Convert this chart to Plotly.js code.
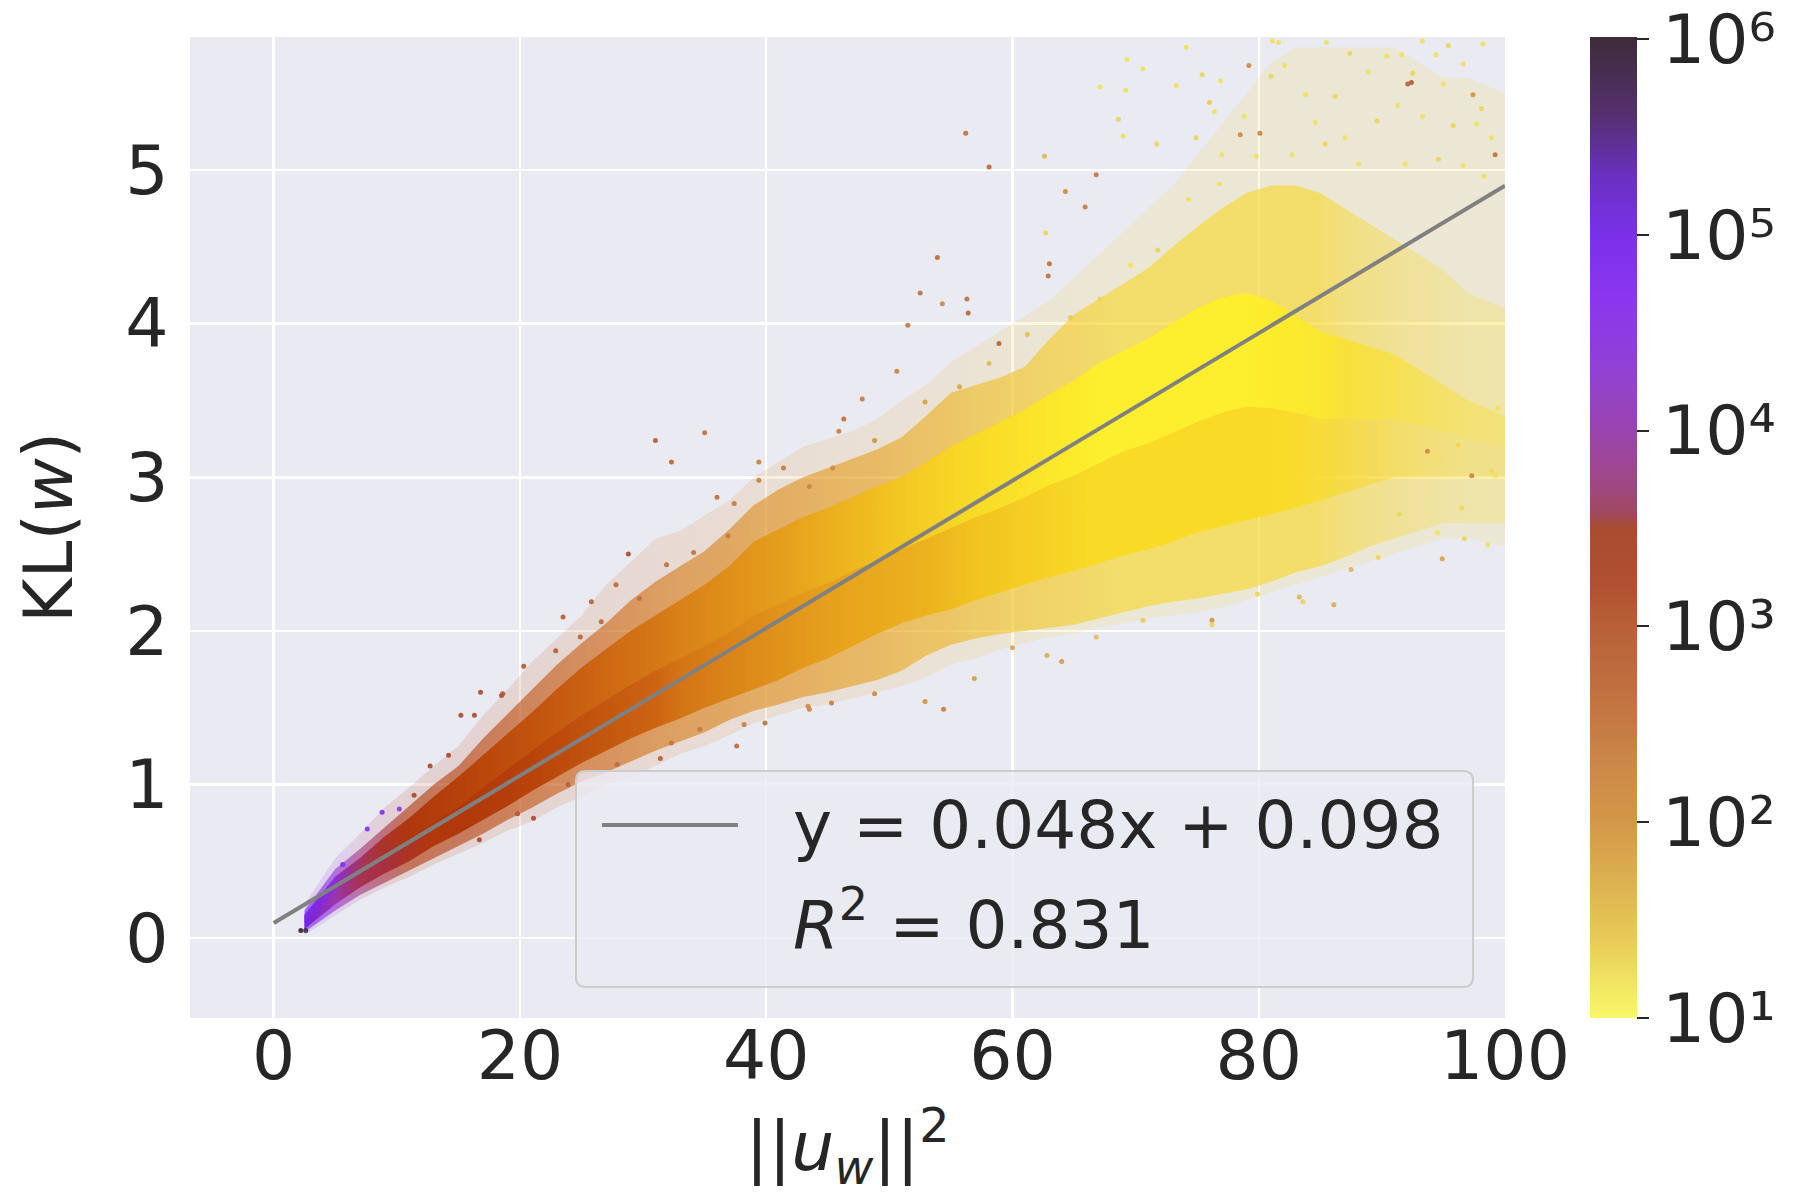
<!DOCTYPE html>
<html>
<head>
<meta charset="utf-8">
<script src="https://cdn.plot.ly/plotly-3.0.1.min.js"></script>
<style>html,body{margin:0;padding:0;background:#fff;}#chart{width:1800px;height:1200px;}</style>
</head>
<body>
<div id="chart"></div>
<script>
// ---------- data ----------
// sample positions along ||u_w||^2
const colX = [2.5,5,7,9,11,13,15,17,19,21,23,25,27,29,31,33,35,37,39,41,43,45,47,49,51,53,55,57,59,61,63,65,67,69,71,73,75,77,79,81,83,85,87,89,91,93,95,97,100];
// dense core of the cloud (KL lower edge / split / upper edge)
const coreLo = [0.06,0.22,0.33,0.42,0.5,0.6,0.68,0.77,0.86,0.96,1.05,1.14,1.22,1.3,1.37,1.43,1.5,1.56,1.62,1.68,1.76,1.82,1.9,1.98,2.05,2.1,2.14,2.2,2.25,2.3,2.35,2.39,2.44,2.49,2.53,2.58,2.64,2.68,2.72,2.76,2.8,2.85,2.9,2.95,3.0,3.0,3.0,3.0,3.0];
const coreMid = [0.1,0.31,0.425,0.54,0.64,0.76,0.855,0.98,1.1,1.22,1.34,1.45,1.55,1.65,1.74,1.82,1.9,1.99,2.1,2.17,2.25,2.31,2.39,2.46,2.53,2.6,2.67,2.74,2.8,2.87,2.95,3.01,3.09,3.17,3.22,3.29,3.36,3.42,3.46,3.45,3.42,3.38,3.38,3.38,3.38,3.34,3.3,3.25,3.2];
const coreHi = [0.15,0.4,0.52,0.66,0.78,0.92,1.05,1.19,1.33,1.47,1.62,1.76,1.88,2.0,2.1,2.2,2.3,2.42,2.58,2.66,2.74,2.8,2.87,2.94,3.0,3.1,3.2,3.28,3.36,3.44,3.54,3.63,3.74,3.82,3.9,4.0,4.1,4.17,4.2,4.15,4.05,3.95,3.9,3.85,3.8,3.7,3.6,3.5,3.4];
// thinner halo around the core
const haloLo = [0.04,0.18,0.28,0.36,0.44,0.52,0.6,0.68,0.77,0.85,0.94,1.02,1.08,1.15,1.22,1.28,1.34,1.42,1.48,1.52,1.57,1.6,1.64,1.68,1.74,1.84,1.91,1.95,1.98,2.0,2.02,2.04,2.08,2.12,2.16,2.19,2.21,2.24,2.27,2.32,2.38,2.42,2.48,2.55,2.6,2.65,2.7,2.7,2.7];
const haloHi = [0.18,0.45,0.58,0.72,0.86,1.0,1.12,1.3,1.46,1.62,1.78,1.92,2.05,2.2,2.32,2.42,2.52,2.66,2.82,2.92,3.0,3.06,3.12,3.18,3.26,3.4,3.55,3.6,3.65,3.72,3.9,4.06,4.16,4.26,4.36,4.5,4.63,4.75,4.85,4.9,4.9,4.85,4.75,4.65,4.55,4.45,4.35,4.2,4.1];
// outer, very sparse fringe
const sparseLo = [0.02,0.15,0.25,0.33,0.4,0.48,0.55,0.62,0.7,0.76,0.85,0.92,1.0,1.05,1.12,1.2,1.25,1.32,1.4,1.45,1.5,1.52,1.56,1.6,1.64,1.7,1.78,1.82,1.88,1.92,1.96,1.98,2.02,2.05,2.08,2.1,2.12,2.15,2.2,2.25,2.3,2.35,2.4,2.45,2.5,2.55,2.6,2.6,2.55];
const sparseHi = [0.22,0.52,0.68,0.85,0.98,1.12,1.25,1.45,1.62,1.8,1.95,2.1,2.3,2.45,2.6,2.65,2.75,2.85,3.0,3.1,3.2,3.25,3.3,3.38,3.5,3.6,3.75,3.85,3.95,4.05,4.15,4.3,4.45,4.6,4.75,4.9,5.1,5.3,5.5,5.7,5.8,5.8,5.8,5.8,5.8,5.7,5.6,5.6,5.5];
// word frequency (log10) shown by colour
const freqLower = [5.1,4.2,3.7,3.6,3.55,3.5,3.5,3.45,3.4,3.3,3.2,3.1,3.0,2.9,2.8,2.6,2.5,2.4,2.3,2.2,2.1,2.0,1.95,1.9,1.85,1.8,1.7,1.6,1.55,1.5,1.45,1.4,1.35,1.35,1.35,1.35,1.35,1.35,1.35,1.35,1.35,1.35,1.4,1.4,1.4,1.4,1.4,1.4,1.4];
const freqUpper = [4.9,4.7,3.8,3.55,3.5,3.4,3.3,3.2,3.1,3.0,2.9,2.8,2.7,2.6,2.5,2.4,2.3,2.2,2.1,2.0,1.9,1.8,1.7,1.6,1.5,1.42,1.35,1.3,1.25,1.2,1.15,1.1,1.05,1.05,1.05,1.05,1.05,1.05,1.05,1.1,1.1,1.1,1.2,1.2,1.2,1.2,1.2,1.2,1.2];
const freqHalo = [5.0,4.5,3.9,3.6,3.5,3.45,3.4,3.3,3.2,3.1,3.0,2.9,2.8,2.7,2.6,2.5,2.45,2.4,2.3,2.25,2.2,2.1,2.05,2.0,1.9,1.85,1.8,1.7,1.65,1.6,1.55,1.5,1.45,1.4,1.4,1.4,1.4,1.4,1.4,1.4,1.4,1.4,1.4,1.4,1.4,1.4,1.4,1.4,1.4];
// isolated points
const outX = [2.2,2.6,3.0,5.6,7.6,8.8,10.2,12.7,15.2,16.3,16.8,18.5,21.1,23.5,25.8,27.8,28.8,31.0,32.3,35.0,36.0,39.4,31.4,37.6,39.9,45.3,
  41.4,45.9,46.3,47.8,50.6,51.5,52.5,53.9,54.3,56.3,56.4,58.9,56.2,58.1,62.6,62.9,63.0,64.3,65.9,66.8,62.7,54.4,64.0,76.2,83.3,86.1,
  67.1,69.3,76.0,76.9,81.1,92.4,98.1,98.8,99.2,96.7,73.3,74.1,79.2,92.1,97.4,99.2,98.3,69.2,68.6,69.0,71.7,96.6,98.2,93.3,98.9,99.4,97.3,96.5,94.9,98.6,89.7,87.5,91.4,94.5,96.2,94.7,93.7,
  81.6,85.5,87.4,90.4,94.4,95.4,88.9,91.6,92.5,95.0,83.8,86.2,82.1,81.0,84.6,87.0,89.6,91.3,93.3,95.8,97.7,98.9,76.4,78.8,74.9,80.1,78.5,79.8,70.6,75.4,77.0,82.7,85.4,88.1,91.9,94.6,96.6,
  34.1,37.4,39.4,29.7,26.6,24.9,22.9,20.3,18.6,14.2,11.4,31.9,36.9,16.7,19.8,23.9,27.9,32.3,34.6,38.2,43.4,
  43.5,45.4,48.8,52.9,55.7,58.1,61.2,64.7,67.1,69.6,71.8,74.3,76.8,43.5,48.8,52.9,56.9,60.0,62.8,66.8,70.6,76.2,79.9,83.6];
const outY = [0.05,0.05,0.18,0.48,0.71,0.82,0.84,1.12,1.45,1.45,1.6,1.58,0.78,2.09,2.19,2.3,2.5,3.24,3.1,3.29,2.87,2.98,1.17,1.25,1.40,1.53,
  3.06,3.30,3.38,3.51,3.69,3.99,4.2,4.43,4.13,4.16,4.07,3.87,5.24,5.02,5.09,4.31,4.39,4.86,4.76,4.97,4.59,1.49,1.80,2.07,2.22,2.17,
  5.54,5.72,5.44,5.58,5.84,5.57,5.4,4.84,3.01,2.6,5.55,5.80,5.68,5.56,5.49,5.10,4.96,5.52,5.33,5.22,5.17,5.69,5.82,5.84,3.04,3.45,3.01,2.80,2.47,2.56,2.48,2.40,2.76,2.64,3.21,3.12,3.17,
  5.83,5.83,5.76,5.74,5.75,5.81,5.64,5.75,5.63,5.56,5.49,5.48,5.68,5.61,5.31,5.21,5.32,5.42,5.35,5.29,5.30,5.21,5.38,5.35,5.21,5.24,5.23,5.09,5.66,5.62,5.10,5.10,5.17,5.04,5.04,5.07,5.03,
  2.51,2.83,3.10,2.21,2.06,1.96,1.87,1.77,1.59,1.19,0.93,2.43,2.62,0.64,0.81,1.0,1.13,1.27,1.36,1.39,1.51,
  2.94,3.06,3.24,3.49,3.59,3.74,3.93,4.04,4.16,4.38,4.48,4.81,4.91,1.49,1.59,1.54,1.69,1.89,1.84,1.96,2.07,2.04,2.24,2.19];
const outC = [6.0,5.8,5.0,4.9,4.7,4.8,4.4,3.4,3.3,3.2,3.3,3.2,3.4,3.0,2.9,2.8,3.2,3.0,2.8,2.6,2.6,2.4,3.0,2.7,2.6,2.4,
  2.5,2.4,2.6,2.4,2.3,2.5,2.6,2.7,2.2,2.6,2.8,2.9,2.6,2.8,1.6,2.6,2.6,2.2,2.4,2.5,1.3,2.4,1.9,2.0,1.6,1.7,
  1.2,1.2,1.4,1.2,1.2,3.0,1.3,1.3,1.2,1.3,1.2,1.2,2.2,2.9,2.0,2.6,1.2,1.2,1.3,1.2,1.3,1.2,1.2,1.2,1.3,1.2,2.3,1.3,1.8,1.2,1.3,1.6,1.3,1.2,1.3,1.2,2.2,
  1.2,1.2,1.3,1.2,1.2,1.3,1.2,1.2,1.3,1.2,1.2,1.3,1.2,1.3,1.2,1.2,1.3,1.2,1.2,1.3,1.2,1.2,1.2,1.2,1.3,2.3,2.2,1.2,1.2,1.3,1.2,1.2,1.3,1.2,1.2,1.3,1.2,
  2.6,2.5,2.4,2.7,2.8,2.9,3.0,3.0,3.1,3.3,3.4,2.6,2.5,3.3,3.1,3.0,2.8,2.6,2.5,2.4,2.2,
  2.3,2.2,2.1,1.9,1.8,1.6,1.5,1.4,1.3,1.2,1.3,1.2,1.2,2.3,2.2,2.0,1.9,1.8,1.7,1.5,1.4,1.3,1.3,1.3];
// fitted regression line y = 0.048x + 0.098
const fitX = [0, 100];
const fitY = [0.098, 4.898];
const fitLabel = 'y = 0.048x + 0.098';
const r2Label = '<i>R</i><sup>2</sup> = 0.831';
// axis ticks
const xTicks = [0, 20, 40, 60, 80, 100];
const yTicks = [0, 1, 2, 3, 4, 5];
const cbTickVals = [1, 2, 3, 4, 5, 6];
const cbTickText = ['10¹','10²','10³','10⁴','10⁵','10⁶'];

// ---------- styles ----------
const CMIN = 1, CMAX = 6.01;
const coreAlpha = colX.map(x => x <= 82 ? 1 : x <= 84 ? 0.9 : x <= 86 ? 0.75 : x <= 88 ? 0.6 : x <= 90 ? 0.5 : x <= 92 ? 0.42 : x <= 94 ? 0.35 : x <= 96 ? 0.3 : x <= 98 ? 0.25 : 0.22);
const upperAlpha = coreAlpha.map(a => a * 0.8);
const haloAlpha = colX.map(x => x <= 86 ? 0.6 : x <= 88 ? 0.48 : x <= 90 ? 0.42 : x <= 92 ? 0.36 : x <= 94 ? 0.32 : x <= 96 ? 0.28 : 0.25);
const sparseAlpha = colX.map(() => 0.14);

const vivid = [[0,'#fff830'],[0.06,'#fae028'],[0.12,'#f2c420'],[0.2,'#e6a01c'],[0.28,'#da8418'],[0.36,'#cc6412'],[0.44,'#bc4a0c'],[0.5,'#b0380a'],[0.52,'#a83040'],[0.6,'#a03890'],[0.7,'#9030d8'],[0.8,'#7a22f0'],[0.9,'#5a209a'],[1,'#2a1020']];
const muted = [[0,'#f8f868'],[0.078,'#e8cc58'],[0.14,'#dcb050'],[0.2,'#d49848'],[0.257,'#cc8848'],[0.335,'#c07040'],[0.4,'#b86038'],[0.445,'#b05030'],[0.5,'#a84c30'],[0.515,'#a04860'],[0.54,'#a04880'],[0.6,'#9a44b0'],[0.67,'#9040d8'],[0.74,'#8a35f0'],[0.8,'#7a30e8'],[0.858,'#6a30c0'],[0.92,'#553070'],[1,'#3c2c38']];

const FONT = '"DejaVu Sans", "Liberation Sans", sans-serif';
const TXT = '#262626';

function hexRgb(h) { return [parseInt(h.slice(1,3),16), parseInt(h.slice(3,5),16), parseInt(h.slice(5,7),16)]; }
function scaleColor(scale, v, a) {
  let t = Math.max(0, Math.min(1, (v - CMIN) / (CMAX - CMIN)));
  for (let i = 1; i < scale.length; i++) {
    if (t <= scale[i][0]) {
      const f = (t - scale[i-1][0]) / (scale[i][0] - scale[i-1][0]);
      const c0 = hexRgb(scale[i-1][1]), c1 = hexRgb(scale[i][1]);
      const c = c0.map((c, k) => Math.round(c + (c1[k] - c) * f));
      return `rgba(${c[0]},${c[1]},${c[2]},${a})`;
    }
  }
  const c = hexRgb(scale[scale.length-1][1]);
  return `rgba(${c[0]},${c[1]},${c[2]},${a})`;
}

function band(lo, hi, freq, alpha) {
  const x0 = colX[0], x1 = colX[colX.length - 1];
  return {
    type: 'scatter', mode: 'lines', fill: 'toself',
    x: colX.concat(colX.slice().reverse()),
    y: lo.concat(hi.slice().reverse()),
    line: { width: 0, color: 'rgba(0,0,0,0)' },
    fillgradient: { type: 'horizontal', start: x0, stop: x1,
      colorscale: colX.map((x, i) => [(x - x0) / (x1 - x0), scaleColor(vivid, freq[i], alpha[i])]) },
    hoverinfo: 'skip', showlegend: false
  };
}

const traces = [
  band(sparseLo, sparseHi, freqHalo, sparseAlpha),
  band(haloLo, haloHi, freqHalo, haloAlpha),
  band(coreLo, coreHi, freqLower, coreAlpha),
  band(coreMid, coreHi, freqUpper, upperAlpha),
  { type: 'scatter', mode: 'markers', x: outX, y: outY, hoverinfo: 'skip', showlegend: false,
    marker: { size: 5, color: outC, colorscale: muted, cmin: CMIN, cmax: CMAX, opacity: 0.95, line: { width: 0 },
      showscale: true,
      colorbar: {
        x: 1.0646, xanchor: 'left', xref: 'paper', y: 0.5, yanchor: 'middle', len: 1, lenmode: 'fraction',
        thickness: 47, thicknessmode: 'pixels', xpad: 0, ypad: 0, outlinewidth: 0,
        tickvals: cbTickVals, ticktext: cbTickText, ticks: 'outside', ticklen: 12, tickwidth: 2, tickcolor: TXT,
        ticklabeloverflow: 'allow',
        tickfont: { family: FONT, size: 68, color: TXT }
      } } },
  { type: 'scatter', mode: 'lines', x: fitX, y: fitY, name: fitLabel, showlegend: false,
    line: { color: '#808080', width: 4 }, hoverinfo: 'skip' }
];

// legend drawn as a rounded box with text (paper coords of the plot area)
const lx0 = 0.2935, lx1 = 0.9757, ly0 = 0.0316, ly1 = 0.2518, rx = 0.0076, ry = 0.0102;
const legendPath = `M${lx0+rx},${ly0} L${lx1-rx},${ly0} Q${lx1},${ly0} ${lx1},${ly0+ry} L${lx1},${ly1-ry} Q${lx1},${ly1} ${lx1-rx},${ly1} L${lx0+rx},${ly1} Q${lx0},${ly1} ${lx0},${ly1-ry} L${lx0},${ly0+ry} Q${lx0},${ly0} ${lx0+rx},${ly0} Z`;

const layout = {
  width: 1800, height: 1200,
  margin: { l: 190, r: 295, t: 37, b: 182, pad: 0 },
  paper_bgcolor: '#ffffff', plot_bgcolor: '#eaeaf2',
  font: { family: FONT, size: 68, color: TXT },
  showlegend: false,
  xaxis: {
    range: [-6.8, 100], tickvals: xTicks, ticktext: xTicks.map(String),
    showgrid: true, gridcolor: '#ffffff', gridwidth: 2.5, zeroline: false, showline: false,
    ticks: '', ticklabelstandoff: -8,
    tickfont: { family: FONT, size: 68, color: TXT },
    title: { text: '||<i>u</i><sub><i>w</i></sub>||<sup>2</sup>', font: { family: FONT, size: 68, color: TXT }, standoff: 28 },
    automargin: false
  },
  yaxis: {
    range: [-0.52, 5.866], tickvals: yTicks, ticktext: yTicks.map(String),
    showgrid: true, gridcolor: '#ffffff', gridwidth: 2.5, zeroline: false, showline: false,
    ticks: 'outside', ticklen: 7, tickcolor: 'rgba(0,0,0,0)',
    tickfont: { family: FONT, size: 68, color: TXT },
    title: { text: 'KL(<i>w</i>)', font: { family: FONT, size: 68, color: TXT }, standoff: 30 },
    automargin: false
  },
  shapes: [
    { type: 'path', xref: 'paper', yref: 'paper', path: legendPath, layer: 'above',
      fillcolor: 'rgba(234,234,242,0.8)', line: { color: '#cccccc', width: 2 } },
    { type: 'line', xref: 'paper', yref: 'paper', x0: 0.3133, x1: 0.4167, y0: 0.1967, y1: 0.1967, layer: 'above',
      line: { color: '#808080', width: 4 } }
  ],
  annotations: [
    { xref: 'paper', yref: 'paper', x: 0.457, y: 0.1967, xanchor: 'left', yanchor: 'middle', showarrow: false,
      text: fitLabel, font: { family: FONT, size: 66, color: TXT } },
    { xref: 'paper', yref: 'paper', x: 0.457, y: 0.0989, xanchor: 'left', yanchor: 'middle', showarrow: false,
      text: r2Label, font: { family: FONT, size: 66, color: TXT } }
  ]
};

Plotly.newPlot('chart', traces, layout, { displayModeBar: false, staticPlot: true });
</script>
</body>
</html>
